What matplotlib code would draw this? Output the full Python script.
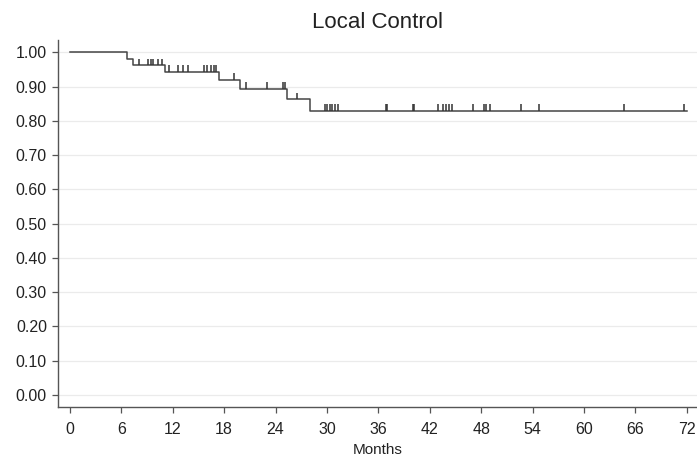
import matplotlib.pyplot as plt
import numpy as np

plt.rcParams['font.family'] = ['Liberation Sans', 'DejaVu Sans']

# Kaplan-Meier steps (months, survival after the event)
event_t = [0.0, 6.6, 7.4, 11.1, 17.4, 19.8, 25.3, 28.0]
event_s = [1.00, 0.982, 0.962, 0.942, 0.920, 0.893, 0.863, 0.830]
end_t = 72.0

# censored observations (months)
censor_t = [8.1, 9.1, 9.4, 9.65, 10.3, 10.7,
            11.6, 12.6, 13.2, 13.8, 15.6, 16.0, 16.5, 16.8, 17.1,
            19.1,
            20.5, 23.0, 24.9, 25.1,
            26.5,
            29.8, 30.0, 30.3, 30.6, 30.9, 31.3, 36.9, 37.0, 40.1, 40.2,
            43.0, 43.6, 43.9, 44.3, 44.6, 47.1, 48.3, 48.6, 49.0,
            52.6, 54.7, 64.7, 71.7]

yticks = np.arange(0, 1.01, 0.1)
xticks = np.arange(0, 73, 6)

fig = plt.figure(figsize=(6.97, 4.59), dpi=100)
ax = fig.add_axes([0.0832, 0.1133, 0.9168, 0.7985])

line_c = '#454545'
ax.step(event_t + [end_t], event_s + [event_s[-1]], where='post', color=line_c, lw=1.1, zorder=3)

# censor marks sit on the curve, pointing upwards
cs = [event_s[np.searchsorted(event_t, t, side='right') - 1] for t in censor_t]
cs = np.array(cs)
ax.vlines(censor_t, cs, cs + 0.02, color='#333333', lw=1.1, zorder=3)

ax.set_xlim(-1.4, 73.2)
ax.set_ylim(-0.035, 1.035)
ax.set_yticks(yticks)
ax.set_yticklabels(['%.2f' % v for v in yticks])
ax.set_xticks(xticks)
ax.grid(axis='y', color='#ebebeb', lw=0.9)
ax.set_axisbelow(True)

for s in ['top', 'right']:
    ax.spines[s].set_visible(False)
for s in ['left', 'bottom']:
    ax.spines[s].set_color('#555555')
    ax.spines[s].set_linewidth(1.0)

ax.tick_params(axis='both', length=4, width=0.9, color='#555555',
               labelsize=11.5, labelcolor='#222222')
ax.tick_params(axis='x', pad=7)
ax.tick_params(axis='y', pad=4)
ax.set_xlabel('Months', fontsize=11, color='#222222', labelpad=4)
ax.set_title('Local Control', fontsize=16, color='#222222', pad=9)

plt.savefig('out.png', dpi=100)
